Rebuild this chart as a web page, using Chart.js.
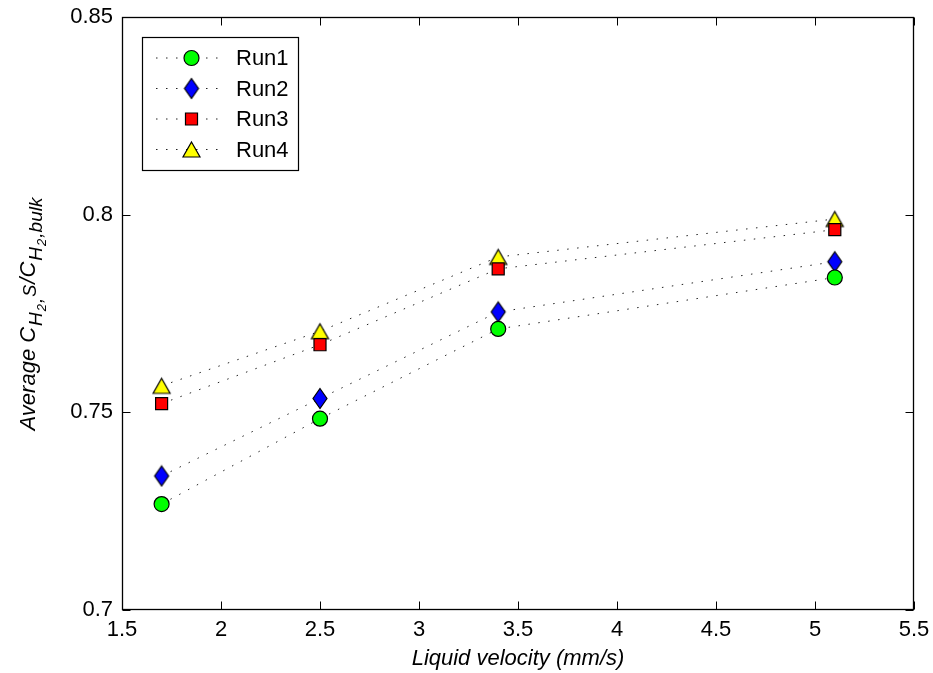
<!DOCTYPE html>
<html>
<head>
<meta charset="utf-8">
<script src="https://cdn.jsdelivr.net/npm/chart.js@4.4.1/dist/chart.umd.min.js"></script>
<style>
  html, body { margin: 0; padding: 0; background: #fff; }
  #wrap { width: 933px; height: 673px; }
</style>
</head>
<body>
<div id="wrap"><canvas id="chart" width="933" height="673"></canvas></div>
<script>
// data
const velocities = [1.7, 2.5, 3.4, 5.1];
const run1 = [0.7268, 0.7484, 0.7711, 0.7841];
const run2 = [0.7339, 0.7535, 0.7754, 0.7881];
const run3 = [0.7522, 0.7671, 0.7863, 0.7962];
const run4 = [0.7567, 0.7705, 0.7893, 0.7989];
const runNames = ['Run1', 'Run2', 'Run3', 'Run4'];
const xTicks = [1.5, 2, 2.5, 3, 3.5, 4, 4.5, 5, 5.5];
const yTicks = [0.7, 0.75, 0.8, 0.85];

const FONT = "'Liberation Sans', Arial, sans-serif";

// markers MATLAB style (diamond and triangle as small canvases)
function makeDiamond() {
  const c = document.createElement('canvas');
  c.width = 18; c.height = 23;
  const g = c.getContext('2d');
  g.beginPath();
  g.moveTo(9, 1.5); g.lineTo(16, 11.5); g.lineTo(9, 21.5); g.lineTo(2, 11.5);
  g.closePath();
  g.fillStyle = '#0000ff'; g.fill();
  g.lineWidth = 1.2; g.strokeStyle = '#000'; g.stroke();
  return c;
}
function makeTriangle() {
  const c = document.createElement('canvas');
  c.width = 21; c.height = 19;
  const g = c.getContext('2d');
  g.beginPath();
  g.moveTo(10.5, 2); g.lineTo(19, 17); g.lineTo(2, 17);
  g.closePath();
  g.fillStyle = '#ffff00'; g.fill();
  g.lineWidth = 1.2; g.strokeStyle = '#000'; g.stroke();
  return c;
}

const seriesStyle = [
  { pointStyle: 'circle', radius: 7.5, color: '#00ff00' },
  { pointStyle: makeDiamond(), radius: 9, color: '#0000ff' },
  { pointStyle: 'rect', radius: 8.5, color: '#ff0000' },
  { pointStyle: makeTriangle(), radius: 9, color: '#ffff00' }
];

function toPoints(ys) {
  return velocities.map((x, i) => ({ x: x, y: ys[i] }));
}

const datasets = [run1, run2, run3, run4].map((ys, i) => ({
  label: runNames[i],
  data: toPoints(ys),
  borderColor: '#222',
  borderWidth: 1,
  borderDash: [1.5, 8.5],
  tension: 0,
  pointStyle: seriesStyle[i].pointStyle,
  pointRadius: seriesStyle[i].radius,
  pointBackgroundColor: seriesStyle[i].color,
  pointBorderColor: '#000',
  pointBorderWidth: 1.2
}));

// frame + inward ticks on all four sides
const framePlugin = {
  id: 'frame',
  afterDraw(chart) {
    const { ctx, chartArea: a, scales } = chart;
    const L = Math.round(a.left) + 0.5, R = Math.round(a.right) - 0.5;
    const T = Math.round(a.top) + 0.5, B = Math.round(a.bottom) - 0.5;
    const len = 8;
    ctx.save();
    ctx.strokeStyle = '#000';
    ctx.lineWidth = 1;
    ctx.beginPath();
    xTicks.forEach(v => {
      const px = Math.round(scales.x.getPixelForValue(v)) + 0.5;
      ctx.moveTo(px, B); ctx.lineTo(px, B - len);
      ctx.moveTo(px, T); ctx.lineTo(px, T + len);
    });
    yTicks.forEach(v => {
      const py = Math.round(scales.y.getPixelForValue(v)) + 0.5;
      ctx.moveTo(L, py); ctx.lineTo(L + len, py);
      ctx.moveTo(R, py); ctx.lineTo(R - len, py);
    });
    ctx.stroke();
    ctx.lineWidth = 1.3;
    ctx.strokeRect(L, T, R - L, B - T);
    ctx.restore();
  }
};

// legend box, top-left
const legendPlugin = {
  id: 'matLegend',
  afterDraw(chart) {
    const ctx = chart.ctx;
    const bx = 142.5, by = 37.5, bw = 156, bh = 133;
    ctx.save();
    ctx.fillStyle = '#fff';
    ctx.fillRect(bx, by, bw, bh);
    ctx.strokeStyle = '#000';
    ctx.lineWidth = 1.2;
    ctx.strokeRect(bx, by, bw, bh);
    chart.data.datasets.forEach((ds, i) => {
      const y = 58 + i * 30.5;
      ctx.save();
      ctx.strokeStyle = ds.borderColor;
      ctx.lineWidth = 1;
      ctx.setLineDash(ds.borderDash);
      ctx.beginPath();
      ctx.moveTo(156, y); ctx.lineTo(226, y);
      ctx.stroke();
      ctx.restore();
      ctx.fillStyle = ds.pointBackgroundColor;
      ctx.strokeStyle = ds.pointBorderColor;
      ctx.lineWidth = ds.pointBorderWidth;
      Chart.helpers.drawPoint(ctx, {
        pointStyle: ds.pointStyle, radius: ds.pointRadius,
        borderWidth: ds.pointBorderWidth, rotation: 0
      }, 191.5, y);
      ctx.fillStyle = '#000';
      ctx.font = '22px ' + FONT;
      ctx.textAlign = 'left';
      ctx.textBaseline = 'middle';
      ctx.fillText(ds.label, 236, y + 1);
    });
    ctx.restore();
  }
};

// y title with subscripts: Average C_{H_2},S / C_{H_2},bulk
const yTitleParts = [
  { t: 'Average C', size: 22, off: 0 },
  { t: 'H', size: 19, off: 7 },
  { t: '2', size: 13, off: 11 },
  { t: ',', size: 19, off: 7 },
  { t: 'S', size: 18, off: 1 },
  { t: '/C', size: 22, off: 0 },
  { t: 'H', size: 19, off: 7 },
  { t: '2', size: 13, off: 11 },
  { t: ',bulk', size: 19, off: 7 }
];
const yTitlePlugin = {
  id: 'yTitle',
  afterDraw(chart) {
    const { ctx, chartArea: a } = chart;
    const gap = 1;
    ctx.save();
    let total = 0;
    yTitleParts.forEach(p => {
      ctx.font = 'italic ' + p.size + 'px ' + FONT;
      p.w = ctx.measureText(p.t).width;
      total += p.w + gap;
    });
    ctx.translate(35, (a.top + a.bottom) / 2);
    ctx.rotate(-Math.PI / 2);
    ctx.fillStyle = '#000';
    ctx.textBaseline = 'alphabetic';
    ctx.textAlign = 'left';
    let x = -total / 2;
    yTitleParts.forEach(p => {
      ctx.font = 'italic ' + p.size + 'px ' + FONT;
      ctx.fillText(p.t, x, p.off);
      x += p.w + gap;
    });
    ctx.restore();
  }
};

Chart.defaults.font.family = FONT;
Chart.defaults.font.size = 22;
Chart.defaults.color = '#000';

new Chart(document.getElementById('chart'), {
  type: 'line',
  data: { datasets: datasets },
  options: {
    responsive: false,
    animation: false,
    layout: { padding: { left: 0, top: 17, right: 19, bottom: 0 } },
    plugins: {
      legend: { display: false },
      tooltip: { enabled: false }
    },
    scales: {
      x: {
        type: 'linear',
        min: 1.5,
        max: 5.5,
        afterBuildTicks: s => { s.ticks = xTicks.map(v => ({ value: v })); },
        afterFit: s => { s.height = 63; s.paddingLeft = 0; s.paddingRight = 0; },
        grid: { display: false, drawTicks: false },
        border: { display: false },
        ticks: {
          padding: 7,
          maxRotation: 0,
          callback: v => String(v)
        },
        title: {
          display: true,
          text: 'Liquid velocity (mm/s)',
          font: { size: 22, style: 'italic', lineHeight: 1.2 },
          padding: { top: 0, bottom: 1 }
        }
      },
      y: {
        type: 'linear',
        min: 0.7,
        max: 0.85,
        afterBuildTicks: s => { s.ticks = yTicks.map(v => ({ value: v })); },
        afterFit: s => { s.width = 122; s.paddingTop = 0; s.paddingBottom = 0; },
        grid: { display: false, drawTicks: false },
        border: { display: false },
        ticks: {
          padding: 9,
          callback: v => String(Math.round(v * 100) / 100)
        }
      }
    }
  },
  plugins: [framePlugin, legendPlugin, yTitlePlugin]
});
</script>
</body>
</html>
